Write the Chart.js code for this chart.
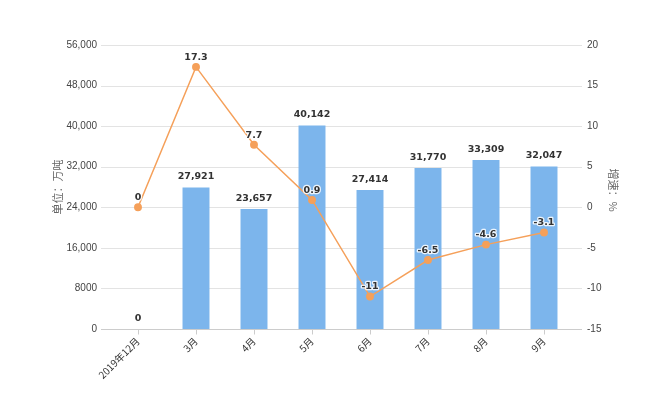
<!DOCTYPE html>
<html>
<head>
<meta charset="utf-8">
<script src="https://cdn.jsdelivr.net/npm/chart.js@4"></script>
<style>
html,body{margin:0;padding:0;background:#fff;}
canvas{display:block;}
</style>
</head>
<body>
<canvas id="c" width="650" height="395"></canvas>
<script>
const categories = ["2019年12月","3月","4月","5月","6月","7月","8月","9月"];
const outputValues = [0, 27921, 23657, 40142, 27414, 31770, 33309, 32047];
const growthValues = [0, 17.3, 7.7, 0.9, -11, -6.5, -4.6, -3.1];
const leftTitle = "单位：万吨";
const rightTitle = "增速：%";

const barColor = "#7cb5ec";
const lineColor = "#f5a05a";
const gridColor = "#e3e3e3";

function fmt(v){
  if (Math.abs(v) >= 10000) return v.toLocaleString("en-US");
  return String(v);
}

const extras = {
  id: "extras",
  beforeDatasetsDraw(chart){
    const ctx = chart.ctx;
    const yl = chart.scales.y;
    const xs = chart.scales.x;
    ctx.save();
    ctx.strokeStyle = gridColor;
    ctx.lineWidth = 1;
    yl.ticks.forEach(t => {
      const y = Math.round(yl.getPixelForValue(t.value)) + 0.5;
      if (t.value === 0) return;
      ctx.beginPath(); ctx.moveTo(101, y); ctx.lineTo(582, y); ctx.stroke();
    });
    const y0 = Math.round(yl.getPixelForValue(0)) + 0.5;
    ctx.strokeStyle = "#cccccc";
    ctx.beginPath(); ctx.moveTo(101, y0); ctx.lineTo(582, y0); ctx.stroke();
    categories.forEach((c, i) => {
      const x = Math.round(xs.getPixelForValue(i)) + 0.5;
      ctx.beginPath(); ctx.moveTo(x, y0); ctx.lineTo(x, y0 + 5); ctx.stroke();
    });
    ctx.fillStyle = "#666";
    ctx.font = "11px 'Noto Sans CJK SC', sans-serif";
    ctx.textAlign = "center";
    ctx.textBaseline = "middle";
    ctx.save();
    ctx.translate(58, 187);
    ctx.rotate(-Math.PI / 2);
    ctx.fillText(leftTitle, 0, 0);
    ctx.restore();
    ctx.save();
    ctx.translate(613, 190);
    ctx.rotate(Math.PI / 2);
    ctx.fillText(rightTitle, 0, 0);
    ctx.restore();
    ctx.restore();
  },
  afterDatasetsDraw(chart){
    const ctx = chart.ctx;
    ctx.save();
    ctx.font = "bold 9.5px 'DejaVu Sans', sans-serif";
    ctx.fillStyle = "#333";
    ctx.textAlign = "center";
    ctx.textBaseline = "bottom";
    const mb = chart.getDatasetMeta(0);
    mb.data.forEach((el, i) => {
      ctx.fillText(fmt(outputValues[i]), el.x, el.y - 6);
    });
    const ml = chart.getDatasetMeta(1);
    ctx.strokeStyle = "rgba(255,255,255,0.85)";
    ctx.lineWidth = 2.5;
    ctx.lineJoin = "round";
    ml.data.forEach((el, i) => {
      const s = String(growthValues[i]);
      ctx.strokeText(s, el.x, el.y - 5);
      ctx.fillText(s, el.x, el.y - 5);
    });
    ctx.restore();
  }
};

new Chart(document.getElementById("c"), {
  type: "bar",
  data: {
    labels: categories,
    datasets: [
      {
        type: "bar",
        data: outputValues,
        backgroundColor: barColor,
        yAxisID: "y",
        barPercentage: 0.93,
        categoryPercentage: 0.5,
        order: 2
      },
      {
        type: "line",
        data: growthValues,
        borderColor: lineColor,
        backgroundColor: lineColor,
        borderWidth: 1.5,
        pointRadius: 3.2,
        pointBackgroundColor: lineColor,
        pointBorderColor: lineColor,
        tension: 0,
        yAxisID: "y1",
        order: 1
      }
    ]
  },
  options: {
    responsive: false,
    animation: false,
    devicePixelRatio: 1,
    layout: { padding: { top: 45, left: 0, right: 0, bottom: 0 } },
    plugins: { legend: { display: false }, tooltip: { enabled: false } },
    scales: {
      x: {
        offset: true,
        grid: { display: false, drawTicks: false },
        border: { display: false },
        ticks: {
          color: "#333",
          font: { size: 10, family: "'Noto Sans CJK SC', sans-serif" },
          minRotation: 45,
          maxRotation: 45,
          padding: 6,
          autoSkip: false
        },
        afterFit(s){ s.height = 66; }
      },
      y: {
        position: "left",
        min: 0, max: 56000,
        grid: { display: false, drawTicks: false },
        border: { display: false },
        ticks: {
          stepSize: 8000,
          color: "#444",
          padding: 12,
          font: { size: 10, family: "'Liberation Sans', sans-serif" },
          callback: v => fmt(v)
        },
        afterFit(s){ s.width = 109; }
      },
      y1: {
        position: "right",
        min: -15, max: 20,
        grid: { display: false, drawTicks: false },
        border: { display: false },
        ticks: {
          stepSize: 5,
          color: "#444",
          padding: 14,
          font: { size: 10, family: "'Liberation Sans', sans-serif" }
        },
        afterFit(s){ s.width = 77; }
      }
    }
  },
  plugins: [extras]
});
</script>
</body>
</html>
